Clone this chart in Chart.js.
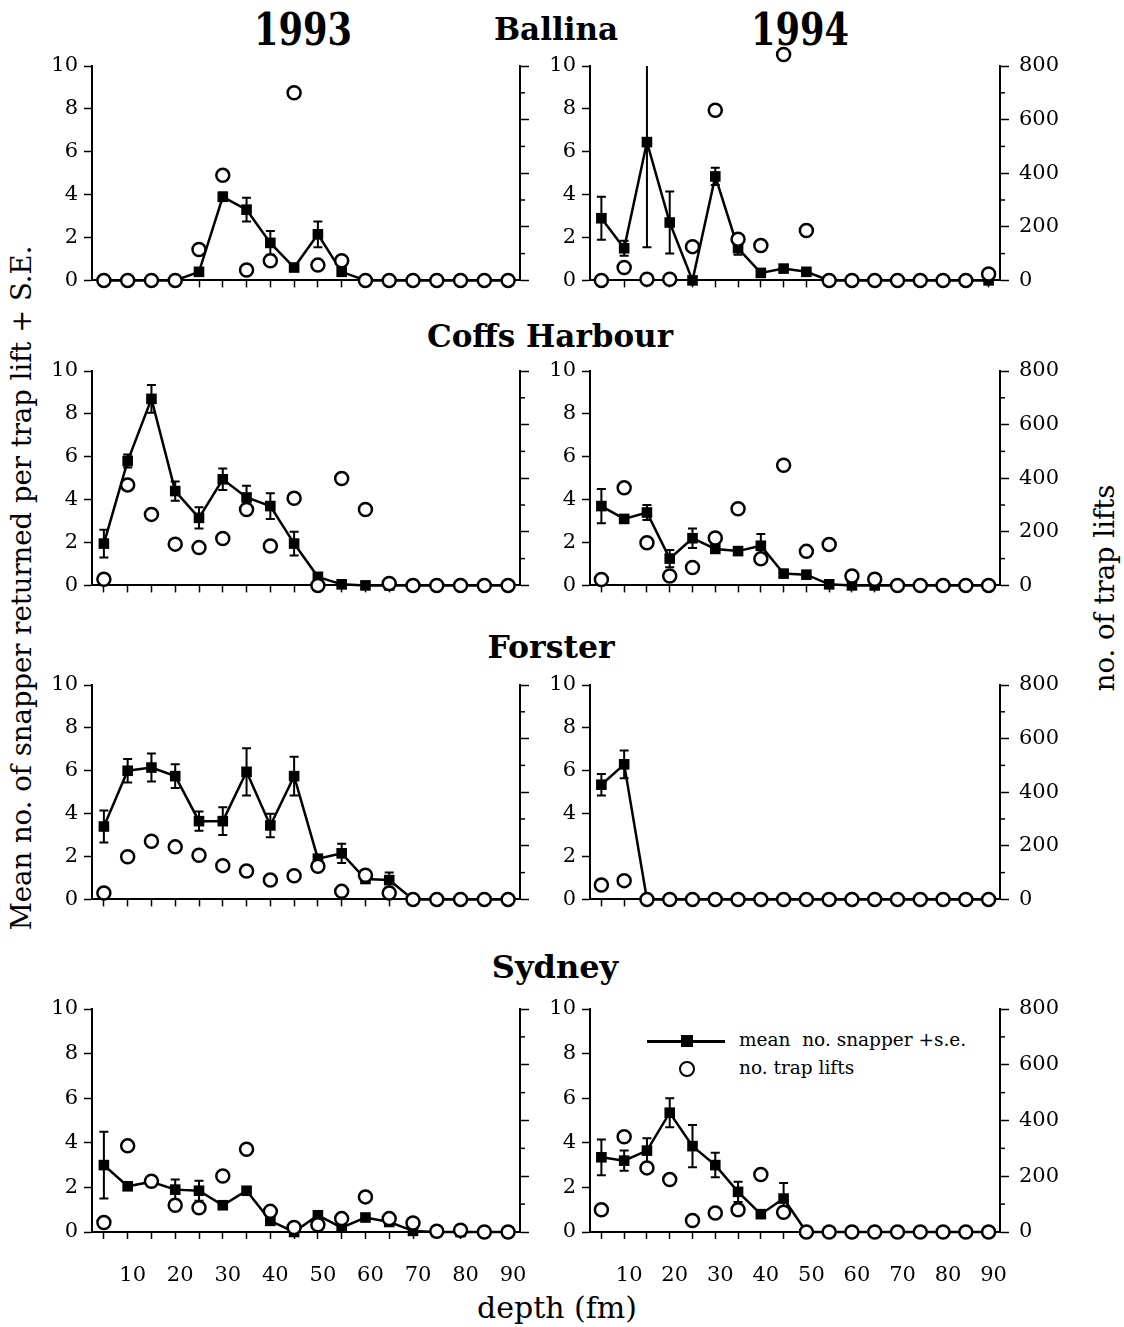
<!DOCTYPE html>
<html><head><meta charset="utf-8">
<script src="https://cdn.jsdelivr.net/npm/chart.js@4.4.1/dist/chart.umd.min.js"></script>
<style>
html,body{margin:0;padding:0;background:#fff}
body{width:1124px;height:1327px;position:relative;overflow:hidden;font-family:"DejaVu Serif",serif;color:#000}
canvas{position:absolute}
.t{position:absolute;white-space:pre;line-height:1}
.b{font-weight:bold}
</style></head><body>
<div class="t b" style="font-size:44px;left:303px;top:8px;transform:translateX(-50%) scaleX(0.8)">1993</div>
<div class="t b" style="font-size:44px;left:800px;top:8px;transform:translateX(-50%) scaleX(0.8)">1994</div>
<div class="t b" style="font-size:31px;left:556px;top:14px;transform:translateX(-50%)">Ballina</div>
<div class="t b" style="font-size:31px;left:550px;top:321px;transform:translateX(-50%)">Coffs Harbour</div>
<div class="t b" style="font-size:31.5px;left:551px;top:631px;transform:translateX(-50%)">Forster</div>
<div class="t b" style="font-size:32px;left:555px;top:951px;transform:translateX(-50%)">Sydney</div>
<div class="t" style="font-size:27.5px;left:22px;top:588px;transform:translate(-50%,-50%) rotate(-90deg)">Mean no. of snapper returned per trap lift + S.E.</div>
<div class="t" style="font-size:27.5px;left:1105px;top:588px;transform:translate(-50%,-50%) rotate(-90deg)">no. of trap lifts</div>
<div class="t" style="font-size:30px;left:557px;top:1293px;transform:translateX(-50%)">depth (fm)</div>
<div style="position:absolute;left:647px;top:1040px;width:78px;height:2.5px;background:#000"></div>
<div style="position:absolute;left:681px;top:1035px;width:12px;height:12px;background:#000"></div>
<div style="position:absolute;left:679px;top:1061px;width:16px;height:16px;box-sizing:border-box;border:2.5px solid #000;border-radius:50%;background:#fff"></div>
<div class="t" style="font-size:18.5px;left:739px;top:1041px;transform:translateY(-55%)">mean  no. snapper +s.e.</div>
<div class="t" style="font-size:18.5px;left:739px;top:1069px;transform:translateY(-55%)">no. trap lifts</div>

<script>
const depths = [5,10,15,20,25,30,35,40,45,50,55,60,65,70,75,80,85,90];
const depthTickLabels = [10,20,30,40,50,60,70,80,90];
const liftMinorTicks = [100,300,500,700];

const ballina1993Mean  = [0,0,0,0,0.4,3.9,3.3,1.75,0.6,2.15,0.4,0,0,0,0,0,0,0];
const ballina1993SE    = [0,0,0,0,0,0.2,0.55,0.55,0,0.6,0,0,0,0,0,0,0,0];
const ballina1993Lifts = [0,0,0,0,115,392,39,73,700,57,73,0,0,0,0,0,0,0];

const ballina1994Mean  = [2.9,1.5,6.45,2.7,0,4.85,1.5,0.35,0.55,0.4,0,0,0,0,0,0,0,0];
const ballina1994SE    = [1.0,0.35,4.9,1.45,0,0.4,0.3,0,0,0,0,0,0,0,0,0,0,0];
const ballina1994Lifts = [0,48,4,4,126,635,154,130,843,186,0,0,0,0,0,0,0,24];

const coffs1993Mean  = [1.95,5.8,8.7,4.4,3.15,4.95,4.1,3.7,1.95,0.4,0.05,0,0,0,0,0,0,0];
const coffs1993SE    = [0.65,0.3,0.65,0.45,0.5,0.5,0.55,0.6,0.55,0,0,0,0,0,0,0,0,0];
const coffs1993Lifts = [23,375,265,154,141,175,283,147,325,0,399,283,7,0,0,0,0,0];

const coffs1994Mean  = [3.7,3.1,3.4,1.25,2.2,1.7,1.6,1.85,0.55,0.5,0.05,0,0,0,0,0,0,0];
const coffs1994SE    = [0.8,0,0.35,0.4,0.45,0,0,0.55,0,0,0,0,0,0,0,0,0,0];
const coffs1994Lifts = [22,364,159,35,67,177,286,99,448,127,153,35,23,0,0,0,0,0];

const forster1993Mean  = [3.4,6.0,6.15,5.75,3.65,3.65,5.95,3.45,5.75,1.9,2.15,0.95,0.9,0,0,0,0,0];
const forster1993SE    = [0.75,0.55,0.65,0.55,0.45,0.65,1.1,0.55,0.9,0,0.45,0,0.35,0,0,0,0,0];
const forster1993Lifts = [24,159,217,196,165,126,106,72,88,124,30,90,24,0,0,0,0,0];

const forster1994Mean  = [5.35,6.3,0,0,0,0,0,0,0,0,0,0,0,0,0,0,0,0];
const forster1994SE    = [0.5,0.65,0,0,0,0,0,0,0,0,0,0,0,0,0,0,0,0];
const forster1994Lifts = [54,70,0,0,0,0,0,0,0,0,0,0,0,0,0,0,0,0];

const sydney1993Mean  = [3.0,2.05,2.25,1.9,1.85,1.2,1.85,0.5,0,0.75,0.2,0.65,0.45,0.05,0,0,0,0];
const sydney1993SE    = [1.5,0,0,0.45,0.45,0,0,0,0,0,0,0,0,0,0,0,0,0];
const sydney1993Lifts = [34,309,182,96,87,201,297,74,16,26,48,126,48,32,3,6,0,0];

const sydney1994Mean  = [3.35,3.2,3.65,5.35,3.85,3.0,1.8,0.8,1.5,0,0,0,0,0,0,0,0,0];
const sydney1994SE    = [0.8,0.45,0.55,0.65,0.95,0.55,0.45,0,0.7,0,0,0,0,0,0,0,0,0];
const sydney1994Lifts = [80,342,230,188,41,68,80,206,71,0,0,0,0,0,0,0,0,0];

const panels = [
  {row:0,col:0,mean:ballina1993Mean,se:ballina1993SE,lifts:ballina1993Lifts},
  {row:0,col:1,mean:ballina1994Mean,se:ballina1994SE,lifts:ballina1994Lifts},
  {row:1,col:0,mean:coffs1993Mean,se:coffs1993SE,lifts:coffs1993Lifts},
  {row:1,col:1,mean:coffs1994Mean,se:coffs1994SE,lifts:coffs1994Lifts},
  {row:2,col:0,mean:forster1993Mean,se:forster1993SE,lifts:forster1993Lifts},
  {row:2,col:1,mean:forster1994Mean,se:forster1994SE,lifts:forster1994Lifts},
  {row:3,col:0,mean:sydney1993Mean,se:sydney1993SE,lifts:sydney1993Lifts},
  {row:3,col:1,mean:sydney1994Mean,se:sydney1994SE,lifts:sydney1994Lifts}
];

const rowTop = [66, 371, 685, 1009];
const plotH = 223;
const PADT = 25;
const colGeom = [
  {left:0, width:560, leftW:92, rightW:40},
  {left:540, width:584, leftW:50, rightW:124}
];
const tickFont = {family:'DejaVu Serif', size:21};

const errorBarPlugin = {
  id:'errorBars',
  beforeDatasetsDraw(chart){
    const ds = chart.data.datasets[1];
    const meta = chart.getDatasetMeta(1);
    const ys = chart.scales.y;
    const ctx = chart.ctx;
    ctx.save();
    ctx.strokeStyle = '#000';
    ctx.lineWidth = 2;
    meta.data.forEach((pt,i)=>{
      const e = ds.errors[i];
      if(!e) return;
      const m = ds.data[i].y;
      const hi = Math.min(m+e, ys.max), lo = Math.max(m-e, ys.min);
      const yt = ys.getPixelForValue(hi), yb = ys.getPixelForValue(lo);
      const cw = 4.5;
      ctx.beginPath();
      ctx.moveTo(pt.x, yt); ctx.lineTo(pt.x, yb);
      if(m+e <= ys.max){ ctx.moveTo(pt.x-cw, yt); ctx.lineTo(pt.x+cw, yt); }
      ctx.moveTo(pt.x-cw, yb); ctx.lineTo(pt.x+cw, yb);
      ctx.stroke();
    });
    ctx.restore();
  }
};
const outsidePointsPlugin = {
  id:'outsidePoints',
  afterDatasetsDraw(chart){
    const a = chart.chartArea;
    const big = {left:-1e4, top:-1e4, right:1e4, bottom:1e4};
    chart.getDatasetMeta(0).data.forEach(pt=>{
      if(pt.y < a.top - 1 || pt.y > a.bottom + 1) pt.draw(chart.ctx, big);
    });
  }
};
const minorTickPlugin = {
  id:'minorTicks',
  afterDraw(chart){
    const s = chart.scales.y1;
    const ctx = chart.ctx;
    ctx.save();
    ctx.strokeStyle = '#000';
    ctx.lineWidth = 1.5;
    liftMinorTicks.forEach(v=>{
      const y = s.getPixelForValue(v);
      ctx.beginPath(); ctx.moveTo(s.left, y); ctx.lineTo(s.left+5, y); ctx.stroke();
    });
    ctx.restore();
  }
};

panels.forEach(p=>{
  const g = colGeom[p.col];
  const bottomRow = p.row === 3;
  const xh = bottomRow ? 60 : 14;
  const cv = document.createElement('canvas');
  cv.width = g.width;
  cv.height = PADT + plotH + xh;
  cv.style.left = g.left + 'px';
  cv.style.top = (rowTop[p.row] - PADT) + 'px';
  cv.style.width = g.width + 'px';
  cv.style.height = cv.height + 'px';
  document.body.appendChild(cv);

  new Chart(cv.getContext('2d'), {
    type:'line',
    data:{
      datasets:[
        {
          data: depths.map((d,i)=>({x:d, y:p.lifts[i]})),
          yAxisID:'y1',
          showLine:false,
          pointStyle:'circle',
          pointRadius:6.5,
          pointBackgroundColor:'#fff',
          pointBorderColor:'#000',
          pointBorderWidth:2.5,
          clip:false
        },
        {
          data: depths.map((d,i)=>({x:d, y:p.mean[i]})),
          errors: p.se,
          yAxisID:'y',
          borderColor:'#000',
          borderWidth:2.5,
          tension:0,
          pointStyle:'rect',
          pointRadius:7.5,
          pointBackgroundColor:'#000',
          pointBorderColor:'#000',
          pointBorderWidth:0,
          clip:false
        }
      ]
    },
    options:{
      responsive:false,
      animation:false,
      devicePixelRatio:1,
      events:[],
      layout:{padding:{top:PADT,left:0,right:0,bottom:0}},
      plugins:{legend:{display:false},tooltip:{enabled:false}},
      scales:{
        x:{
          type:'linear', min:2.5, max:92.5,
          afterBuildTicks: s => { s.ticks = depths.map(v=>({value:v})); },
          afterFit: s => { s.height = xh; },
          ticks:{
            autoSkip:false, maxRotation:0, minRotation:0,
            font:tickFont, color:'#000', padding:24, labelOffset:5,
            callback: v => (bottomRow && depthTickLabels.includes(v)) ? String(v) : ''
          },
          grid:{drawOnChartArea:false, tickLength:7, tickColor:'#000', tickWidth:1.5},
          border:{color:'#000', width:2}
        },
        y:{
          type:'linear', position:'left', min:0, max:10,
          afterFit: s => { s.width = g.leftW; },
          ticks:{stepSize:2, font:tickFont, color:'#000', padding:6},
          grid:{drawOnChartArea:false, tickLength:8, tickColor:'#000', tickWidth:1.5},
          border:{color:'#000', width:2}
        },
        y1:{
          type:'linear', position:'right', min:0, max:800,
          afterFit: s => { s.width = g.rightW; },
          ticks:{stepSize:200, font:tickFont, color:'#000', padding:10,
            callback: v => p.col === 1 ? String(v) : ''},
          grid:{drawOnChartArea:false, tickLength:9, tickColor:'#000', tickWidth:1.5},
          border:{color:'#000', width:2}
        }
      }
    },
    plugins:[errorBarPlugin, outsidePointsPlugin, minorTickPlugin]
  });
});
</script>
</body></html>
